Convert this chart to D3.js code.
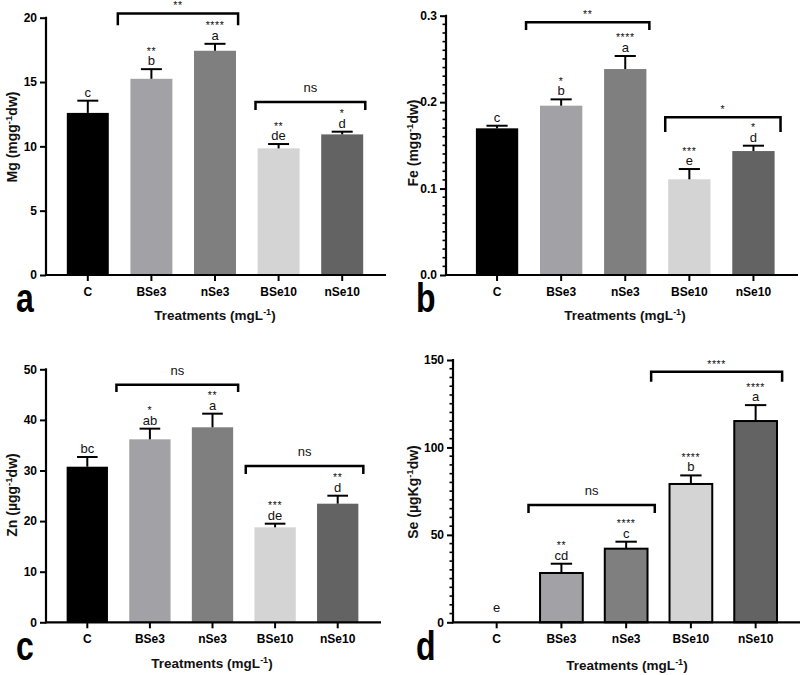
<!DOCTYPE html>
<html>
<head>
<meta charset="utf-8">
<script src="https://cdnjs.cloudflare.com/ajax/libs/d3/7.8.5/d3.min.js"></script>
<style>
  html, body { margin: 0; padding: 0; background: #fff; }
  svg { display: block; font-family: "Liberation Sans", Arial, sans-serif; }
</style>
</head>
<body>
<svg id="fig" width="800" height="675"></svg>
<script>
// ── données ──
const treatments = ['C', 'BSe3', 'nSe3', 'BSe10', 'nSe10'];
const barColors  = ['#000000', '#a2a2a6', '#7f7f7f', '#d4d4d4', '#636363'];

const mgMean    = [12.6, 15.25, 17.43, 9.84, 10.93];
const mgErr     = [0.95, 0.75, 0.54, 0.34, 0.21];
const mgLetters = ['c', 'b', 'a', 'de', 'd'];
const mgStars   = ['', '**', '****', '**', '*'];
const mgTicks   = [0, 5, 10, 15, 20];
// [de, à, niveau, bas des pattes, texte]
const mgBrackets = [[1, 2, 20.33, 19.42, '**'], [3, 4, 13.44, 12.82, 'ns']];

const feMean    = [0.1697, 0.1959, 0.2383, 0.1107, 0.1434];
const feErr     = [0.003, 0.0073, 0.0151, 0.0119, 0.0062];
const feLetters = ['c', 'b', 'a', 'e', 'd'];
const feStars   = ['', '*', '****', '***', '*'];
const feTicks   = [0, 0.1, 0.2, 0.3];
const feBrackets = [[1, 2, 0.2923, 0.2834, '**'], [3, 4, 0.1824, 0.1654, '*']];

const znMean    = [30.75, 36.16, 38.54, 18.77, 23.44];
const znErr     = [1.92, 2.11, 2.69, 0.72, 1.58];
const znLetters = ['bc', 'ab', 'a', 'de', 'd'];
const znStars   = ['', '*', '**', '***', '**'];
const znTicks   = [0, 10, 20, 30, 40, 50];
const znBrackets = [[1, 2, 46.96, 45.51, 'ns'], [3, 4, 30.89, 29.31, 'ns']];

const seMean    = [0, 28.2, 42.1, 79.1, 115.1];
const seErr     = [0, 5.3, 4.0, 4.9, 9.1];
const seLetters = ['e', 'cd', 'c', 'b', 'a'];
const seStars   = ['', '**', '****', '****', '****'];
const seTicks   = [0, 50, 100, 150];
const seBrackets = [[1, 2, 67.07, 62.5, 'ns'], [3, 4, 143.3, 137.6, '****']];

const svg = d3.select('#fig');

function drawPanel(p) {
  const g = svg.append('g');
  const yMax = p.ticks[p.ticks.length - 1];
  const x = d3.scaleBand().domain(treatments).range(p.band).paddingInner(0.34).paddingOuter(0.17);
  const y = d3.scaleLinear().domain([0, yMax]).range([p.y0, p.yTop]);
  const bw = x.bandwidth();
  const cx = i => x(treatments[i]) + bw / 2;

  // barres
  g.append('g').selectAll('rect')
    .data(p.mean)
    .enter().append('rect')
    .attr('x', (d, i) => x(treatments[i]))
    .attr('width', bw)
    .attr('y', d => y(d))
    .attr('height', d => y(0) - y(d))
    .attr('fill', (d, i) => barColors[i])
    .attr('stroke', p.outline ? '#000' : 'none')
    .attr('stroke-width', p.outline ? 2 : 0)
    .style('display', d => d > 0 ? null : 'none');

  // barres d'erreur
  const eb = g.append('g').attr('stroke', '#000').attr('stroke-width', 2);
  p.mean.forEach((m, i) => {
    if (!p.err[i]) return;
    eb.append('line').attr('x1', cx(i)).attr('x2', cx(i)).attr('y1', y(m)).attr('y2', y(m + p.err[i]));
    eb.append('line').attr('x1', cx(i) - bw / 4).attr('x2', cx(i) + bw / 4)
      .attr('y1', y(m + p.err[i])).attr('y2', y(m + p.err[i]));
  });

  // lettres et étoiles
  p.mean.forEach((m, i) => {
    const ly = Math.min(y(m + p.err[i]) - 4, y(0) - 10);
    g.append('text').attr('x', cx(i)).attr('y', ly)
      .attr('text-anchor', 'middle').attr('font-size', 13).attr('fill', '#111')
      .text(p.letters[i]);
    if (p.stars[i]) {
      g.append('text').attr('x', cx(i)).attr('y', ly - 10.5)
        .attr('text-anchor', 'middle').attr('font-size', 10.5).attr('letter-spacing', 0.6).attr('fill', '#111')
        .text(p.stars[i]);
    }
  });

  // crochets de comparaison
  p.brackets.forEach((b, k) => {
    const x1 = x(treatments[b[0]]) + p.bx[k][0] * bw;
    const x2 = x(treatments[b[1]]) + p.bx[k][1] * bw;
    const yl = y(b[2]), yb = y(b[3]);
    g.append('path')
      .attr('d', `M${x1},${yb}V${yl}H${x2}V${yb}`)
      .attr('fill', 'none').attr('stroke', '#000').attr('stroke-width', 2.5);
    const isStar = b[4].indexOf('*') === 0;
    g.append('text').attr('x', (x1 + x2) / 2).attr('y', yl - (isStar ? 4 : 10))
      .attr('text-anchor', 'middle').attr('font-size', isStar ? 10.5 : 13)
      .attr('letter-spacing', isStar ? 0.6 : 0).attr('fill', '#111')
      .text(b[4]);
  });

  // axe Y
  const ya = g.append('g').attr('transform', `translate(${p.left},0)`)
    .call(d3.axisLeft(y).tickValues(p.ticks).tickSize(6).tickPadding(3).tickFormat(p.fmt));
  ya.select('.domain').remove();
  ya.selectAll('line').attr('stroke-width', 2);
  ya.selectAll('text').attr('font-size', 12).attr('font-weight', 'bold').attr('fill', '#000');
  if (p.minor) {
    const minorTicks = d3.range(0, yMax + p.minor / 2, p.minor).filter(v => !p.ticks.some(t => Math.abs(t - v) < p.minor / 10));
    g.append('g').selectAll('line').data(minorTicks).enter().append('line')
      .attr('x1', p.left - 3.5).attr('x2', p.left).attr('y1', d => y(d)).attr('y2', d => y(d))
      .attr('stroke', '#000').attr('stroke-width', 1.6);
  }
  g.append('line').attr('x1', p.left).attr('x2', p.left).attr('y1', y(0) + 1).attr('y2', y(yMax) - 1)
    .attr('stroke', '#000').attr('stroke-width', 2.2);

  // axe X
  const xa = g.append('g').attr('transform', `translate(0,${p.y0})`)
    .call(d3.axisBottom(x).tickSize(6).tickPadding(6));
  xa.select('.domain').remove();
  xa.selectAll('line').attr('stroke-width', 2);
  xa.selectAll('text').attr('font-size', 12).attr('font-weight', 'bold').attr('fill', '#000');
  g.append('line').attr('x1', p.left - 1).attr('x2', p.right).attr('y1', p.y0).attr('y2', p.y0)
    .attr('stroke', '#000').attr('stroke-width', 2.2);

  // titres
  const xt = g.append('text').attr('x', p.xTitle[0]).attr('y', p.xTitle[1])
    .attr('text-anchor', 'middle').attr('font-size', 13.5).attr('font-weight', 'bold').attr('fill', '#111');
  xt.append('tspan').text('Treatments (mgL');
  xt.append('tspan').attr('font-size', 9).attr('dy', -5).text('-1');
  xt.append('tspan').attr('dy', 5).text(')');

  const yt = g.append('text')
    .attr('transform', `translate(${p.yTitle[0]},${p.yTitle[1]}) rotate(-90)`)
    .attr('text-anchor', 'middle').attr('font-size', 14).attr('font-weight', 'bold').attr('fill', '#111');
  yt.append('tspan').text(p.yLabel[0]);
  yt.append('tspan').attr('font-size', 9.5).attr('dy', -5).text('-1');
  yt.append('tspan').attr('dy', 5).text(p.yLabel[1]);

  g.append('text')
    .attr('transform', `translate(${p.tag[0]},${p.tag[1]}) scale(0.8,1)`)
    .attr('font-size', 40).attr('font-weight', 'bold').attr('fill', '#000')
    .text(p.tagText);
}

drawPanel({
  mean: mgMean, err: mgErr, letters: mgLetters, stars: mgStars, ticks: mgTicks, brackets: mgBrackets,
  fmt: d3.format('d'), minor: null, outline: false,
  left: 46, right: 386, y0: 275, yTop: 17.7, band: [56, 374],
  bx: [[-0.3, 1.05], [-0.05, 1.05]],
  xTitle: [215, 320], yTitle: [17, 137], yLabel: ['Mg (mgg', 'dw)'], tag: [16, 312], tagText: 'a'
});
drawPanel({
  mean: feMean, err: feErr, letters: feLetters, stars: feStars, ticks: feTicks, brackets: feBrackets,
  fmt: d3.format('.1f'), minor: 0.01, outline: false,
  left: 446, right: 798, y0: 275, yTop: 15.7, band: [465, 785.5],
  bx: [[-0.33, 1.07], [-0.07, 1.14]],
  xTitle: [625, 320], yTitle: [418, 143], yLabel: ['Fe (mgg', 'dw)'], tag: [416, 312], tagText: 'b'
});
drawPanel({
  mean: znMean, err: znErr, letters: znLetters, stars: znStars, ticks: znTicks, brackets: znBrackets,
  fmt: d3.format('d'), minor: null, outline: false,
  left: 46, right: 381, y0: 622.3, yTop: 369.3, band: [56, 369],
  bx: [[-0.31, 1.12], [-0.21, 1.12]],
  xTitle: [212, 668], yTitle: [17, 495], yLabel: ['Zn (µgg', 'dw)'], tag: [16, 660], tagText: 'c'
});
drawPanel({
  mean: seMean, err: seErr, letters: seLetters, stars: seStars, ticks: seTicks, brackets: seBrackets,
  fmt: d3.format('d'), minor: 5, outline: true,
  left: 453, right: 800, y0: 622.3, yTop: 360, band: [464.3, 788],
  bx: [[-0.27, 1.17], [-0.43, 1.12]],
  xTitle: [627, 670], yTitle: [418, 492], yLabel: ['Se (µgKg', 'dw)'], tag: [416, 660], tagText: 'd'
});
</script>
</body>
</html>
